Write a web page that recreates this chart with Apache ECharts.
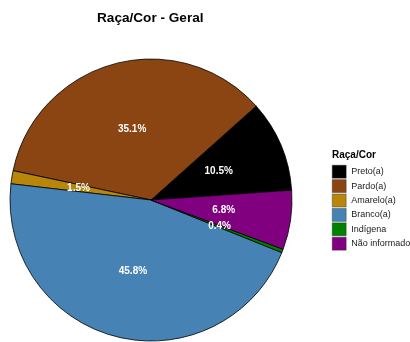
<!DOCTYPE html>
<html>
<head>
<meta charset="utf-8">
<script src="https://cdn.jsdelivr.net/npm/echarts@6/dist/echarts.min.js"></script>
<style>
  html, body { margin: 0; padding: 0; background: #ffffff; }
  #chart { width: 410px; height: 342px; }
</style>
</head>
<body>
<div id="chart"></div>
<script>
// Raça/Cor distribution (percent of total)
const categories = ['Preto(a)', 'Pardo(a)', 'Amarelo(a)', 'Branco(a)', 'Indígena', 'Não informado'];
const percentages = [10.5, 35.1, 1.5, 45.8, 0.4, 6.8];
const colors = ['#000000', '#8B4513', '#B8860B', '#4682B4', '#008000', '#800080'];

const FONT = '"Liberation Sans", Arial, Helvetica, sans-serif';

const chart = echarts.init(document.getElementById('chart'), null, { renderer: 'canvas' });

chart.setOption({
  animation: false,
  backgroundColor: '#ffffff',
  title: [
    {
      text: 'Raça/Cor - Geral',
      left: 97,
      top: 11,
      padding: 0,
      textStyle: { fontFamily: FONT, fontSize: 13.6, fontWeight: 'bold', color: '#000000' }
    },
    {
      text: 'Raça/Cor',
      left: 332,
      top: 150,
      padding: 0,
      textStyle: { fontFamily: FONT, fontSize: 10, fontWeight: 'bold', color: '#000000' }
    }
  ],
  legend: {
    orient: 'vertical',
    left: 332,
    top: 165,
    padding: 0,
    itemWidth: 14,
    itemHeight: 13,
    itemGap: 1,
    icon: 'rect',
    selectedMode: false,
    data: categories,
    itemStyle: { borderColor: '#333333', borderWidth: 0.4 },
    textStyle: { fontFamily: FONT, fontSize: 9, color: '#1a1a1a', lineHeight: 13 }
  },
  series: [{
    type: 'pie',
    center: [151, 200],
    radius: 141,
    startAngle: 4,
    clockwise: false,
    avoidLabelOverlap: false,
    minAngle: 0,
    itemStyle: { borderColor: '#000000', borderWidth: 0.8 },
    label: {
      show: true,
      position: 'inner',
      fontFamily: FONT,
      fontSize: 10,
      fontWeight: 'bold',
      color: '#ffffff',
      formatter: p => p.value.toFixed(1) + '%'
    },
    labelLine: { show: false },
    emphasis: { disabled: true },
    data: categories.map((name, i) => ({
      name: name,
      value: percentages[i],
      itemStyle: { color: colors[i] }
    }))
  }]
});
</script>
</body>
</html>
